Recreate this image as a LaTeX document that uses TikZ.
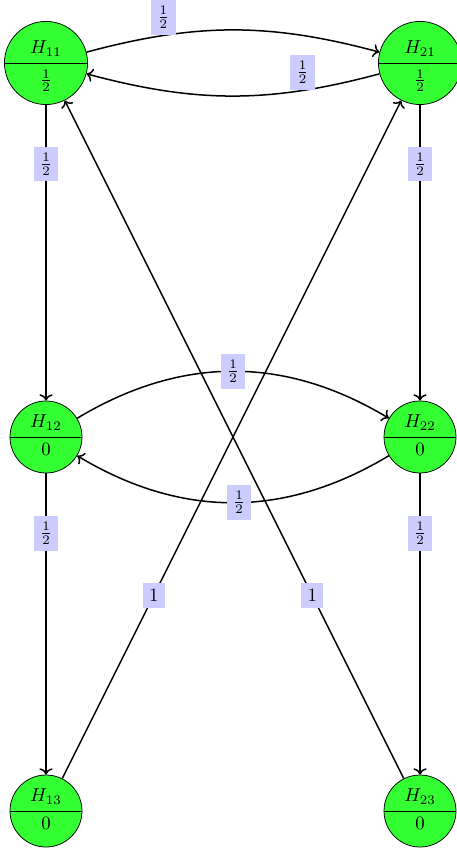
\documentclass[tikz,border=0pt]{standalone}
\usepackage{tikz}
\usetikzlibrary{shapes.multipart, arrows.meta}

\tikzset{
	hstate/.style={circle split, draw, fill=green!80},
	wlabel/.style={fill=blue!20},
	flow/.style={->, thick},
}

\begin{document}
\begin{tikzpicture}
	\useasboundingbox (-0.861,1.179) rectangle (7.674,-14.73);
	% states
	\node[hstate] (h11) at (0,0) {$H_{11}$ \nodepart{lower} $\frac{1}{2}$};
	\node[hstate] (h21) at (7,0) {$H_{21}$ \nodepart{lower} $\frac{1}{2}$};
	\node[hstate] (h12) at (0,-7) {$H_{12}$ \nodepart{lower} $0$};
	\node[hstate] (h22) at (7,-7) {$H_{22}$ \nodepart{lower} $0$};
	\node[hstate] (h13) at (0,-14) {$H_{13}$ \nodepart{lower} $0$};
	\node[hstate] (h23) at (7,-14) {$H_{23}$ \nodepart{lower} $0$};
	% top pair
	\draw[flow] (h11) to[bend left=15] node[wlabel, above, pos=0.25] {$\frac{1}{2}$} (h21);
	\draw[flow] (h21) to[bend left=15] node[wlabel, above, pos=0.25] {$\frac{1}{2}$} (h11);
	% middle pair
	\draw[flow] (h12) to[bend left=31] node[wlabel] {$\frac{1}{2}$} (h22);
	\draw[flow] (h22) to[bend left=31] node[wlabel, pos=0.48] {$\frac{1}{2}$} (h12);
	% down the columns
	\draw[flow] (h11) -- node[wlabel, pos=0.2] {$\frac{1}{2}$} (h12);
	\draw[flow] (h21) -- node[wlabel, pos=0.2] {$\frac{1}{2}$} (h22);
	\draw[flow] (h12) -- node[wlabel, pos=0.2] {$\frac{1}{2}$} (h13);
	\draw[flow] (h22) -- node[wlabel, pos=0.2] {$\frac{1}{2}$} (h23);
	% back to the top
	\draw[flow] (h13) -- node[wlabel, pos=0.27] {$1$} (h21);
	\draw[flow] (h23) -- node[wlabel, pos=0.27] {$1$} (h11);
\end{tikzpicture}
\end{document}
